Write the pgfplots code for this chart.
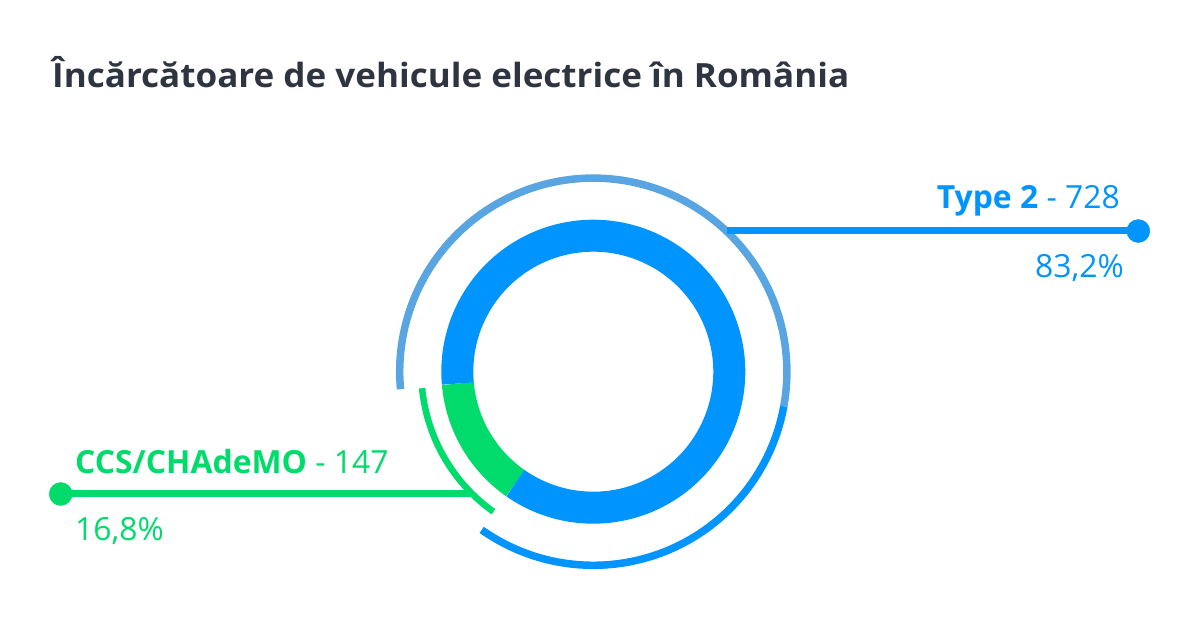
\documentclass[border=0pt]{standalone}
\usepackage{pgfplots}
\pgfplotsset{compat=1.18}
\usepackage{fontspec}
\setmainfont{Open Sans}
\newfontfamily\titlefont[FakeStretch=1.05]{Open Sans}
\definecolor{cblue}{HTML}{0094FF}
\definecolor{clblue}{HTML}{58A5E2}
\definecolor{cgreen}{HTML}{00DB6B}
\definecolor{ctitle}{HTML}{2E3440}
% data: category, count, share (%), arc start and end (deg) as drawn
% Type 2: 728 (83,2%), CCS/CHAdeMO: 147 (16,8%)
\begin{document}
\begin{tikzpicture}
\useasboundingbox (0,0) rectangle (1200bp,628bp);
\begin{axis}[at={(0,0)}, anchor=south west, width=1200bp, height=628bp,
  scale only axis, xmin=0, xmax=1200, ymin=0, ymax=628, hide axis, clip=false]
% donut ring
\addplot[cgreen, line width=32bp, domain=185:235, samples=60, no marks] ({593.3+136*cos(x)},{256.3+136*sin(x)});
\addplot[cblue, line width=32bp, domain=235:545, samples=200, no marks] ({593.3+136*cos(x)},{256.3+136*sin(x)});
% outer arcs
\addplot[clblue, line width=7.5bp, domain=-10.3:185.2, samples=150, no marks] ({593.3+193.6*cos(x)},{256.3+193.6*sin(x)});
\addplot[cblue, line width=7.5bp, domain=-125.2:-10.3, samples=100, no marks] ({593.3+193.6*cos(x)},{256.3+193.6*sin(x)});
\addplot[cgreen, line width=6.5bp, domain=185.5:234.5, samples=60, no marks] ({593.3+172*cos(x)},{256.3+172*sin(x)});
% leader lines
\addplot[cblue, line width=7bp, no marks] coordinates {(727,397) (1138.3,397)};
\addplot[cblue, only marks, mark=*, mark size=11.5bp] coordinates {(1138.3,397)};
\addplot[cgreen, line width=7bp, no marks] coordinates {(60.7,134) (471,134)};
\addplot[cgreen, only marks, mark=*, mark size=11.5bp] coordinates {(60.7,134)};
% texts
\node[anchor=base west, inner sep=0, text=ctitle, font=\titlefont\fontsize{33.5}{35}\bfseries\selectfont] at (axis cs:52,540.7) {Încărcătoare de vehicule electrice în România};
\node[anchor=base east, inner sep=0, text=cblue, font=\fontsize{32}{33}\selectfont] at (axis cs:1120,419) {\textbf{Type 2} - 728};
\node[anchor=base east, inner sep=0, text=cblue, font=\fontsize{32}{33}\selectfont] at (axis cs:1124,350.7) {83,2\%};
\node[anchor=base west, inner sep=0, text=cgreen, font=\fontsize{32}{33}\selectfont] at (axis cs:75,154.7) {\textbf{CCS/CHAdeMO} - 147};
\node[anchor=base west, inner sep=0, text=cgreen, font=\fontsize{32}{33}\selectfont] at (axis cs:75,87.3) {16,8\%};
\end{axis}
\end{tikzpicture}
\end{document}
